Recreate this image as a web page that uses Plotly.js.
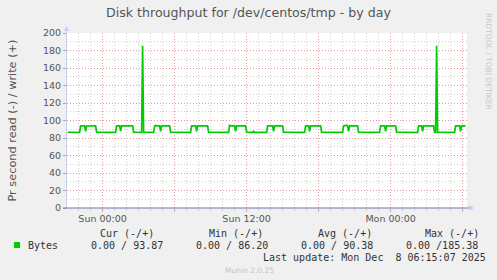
<!DOCTYPE html>
<html>
<head>
<meta charset="utf-8">
<script src="https://cdn.plot.ly/plotly-3.0.1.min.js"></script>
<style>html,body{margin:0;padding:0;background:#F0F0F0;}#chart{width:497px;height:280px;}</style>
</head>
<body>
<div id="chart"></div>
<script>
// ---- data ----
const times = [
'2025-12-06 21:05','2025-12-06 22:05','2025-12-06 22:10','2025-12-06 22:30','2025-12-06 22:35','2025-12-06 22:40','2025-12-06 23:25','2025-12-06 23:30',
'2025-12-07 01:05','2025-12-07 01:10','2025-12-07 01:25','2025-12-07 01:30','2025-12-07 01:35','2025-12-07 02:30','2025-12-07 02:35',
'2025-12-07 03:15','2025-12-07 03:20','2025-12-07 03:25',
'2025-12-07 04:15','2025-12-07 04:20','2025-12-07 04:25','2025-12-07 04:30','2025-12-07 04:45','2025-12-07 04:50','2025-12-07 04:55','2025-12-07 05:35','2025-12-07 05:40',
'2025-12-07 07:20','2025-12-07 07:25','2025-12-07 07:45','2025-12-07 07:50','2025-12-07 07:55','2025-12-07 08:45','2025-12-07 08:50',
'2025-12-07 10:30','2025-12-07 10:35','2025-12-07 10:40','2025-12-07 11:00','2025-12-07 11:05','2025-12-07 11:10','2025-12-07 11:55','2025-12-07 12:00',
'2025-12-07 12:30','2025-12-07 12:35','2025-12-07 12:40','2025-12-07 12:45',
'2025-12-07 13:40','2025-12-07 13:45','2025-12-07 14:10','2025-12-07 14:15','2025-12-07 14:20','2025-12-07 15:00','2025-12-07 15:05',
'2025-12-07 16:50','2025-12-07 16:55','2025-12-07 17:10','2025-12-07 17:15','2025-12-07 17:20','2025-12-07 18:10','2025-12-07 18:15',
'2025-12-07 20:00','2025-12-07 20:05','2025-12-07 20:20','2025-12-07 20:25','2025-12-07 20:30','2025-12-07 20:35','2025-12-07 21:15','2025-12-07 21:20',
'2025-12-07 23:05','2025-12-07 23:10','2025-12-07 23:30','2025-12-07 23:35','2025-12-07 23:40','2025-12-08 00:25','2025-12-08 00:30',
'2025-12-08 02:15','2025-12-08 02:20','2025-12-08 02:35','2025-12-08 02:40','2025-12-08 02:45','2025-12-08 03:35','2025-12-08 03:40',
'2025-12-08 03:45','2025-12-08 03:50','2025-12-08 03:55',
'2025-12-08 05:20','2025-12-08 05:25','2025-12-08 05:45','2025-12-08 05:50','2025-12-08 05:55','2025-12-08 06:15'
];
const writeBytes = [
86.6,86.5,93.8,93.9,87.6,93.7,93.9,86.6,
86.4,93.8,93.9,87.8,93.8,93.9,86.6,
86.5,185.38,86.6,
86.5,93.8,94.6,93.8,93.9,87.6,93.8,93.9,86.6,
86.5,93.8,93.9,87.7,93.8,93.9,86.6,
86.4,94.4,93.8,93.9,87.6,93.8,93.9,86.6,
86.5,87.6,86.2,86.6,
86.5,93.8,93.9,87.7,93.8,93.9,86.6,
86.5,93.8,93.9,87.6,93.8,93.9,86.6,
86.5,93.8,94.6,93.8,87.7,93.8,93.9,86.6,
86.5,93.8,93.9,87.6,93.8,93.9,86.6,
86.5,93.8,93.9,87.7,93.8,93.9,86.6,
86.5,185.38,86.6,
86.5,93.8,93.9,87.6,93.8,93.87
];
const xTickVals = ['2025-12-07 00:00','2025-12-07 06:00','2025-12-07 12:00','2025-12-07 18:00','2025-12-08 00:00','2025-12-08 06:00'];
const xTickText = ['Sun 00:00','','Sun 12:00','','Mon 00:00',''];
const yTickVals = [0,20,40,60,80,100,120,140,160,180,200];
const legendHeaders = ['Cur (-/+)','Min (-/+)','Avg (-/+)','Max (-/+)'];
const legendValues = ['0.00 / 93.87','0.00 / 86.20','0.00 / 90.38','0.00 /185.38'];
const seriesName = 'Bytes';
const titleText = 'Disk throughput for /dev/centos/tmp - by day';
const yTitle = 'Pr second read (-) / write (+)';
const lastUpdate = 'Last update: Mon Dec\u00A0\u00A08 06:15:07 2025';
const footer = 'Munin 2.0.25';
const sideText = 'RRDTOOL / TOBI OETIKER';

// ---- layout helpers (pixel -> paper) ----
const L = 67, R = 30, T = 33, B = 72, W = 497, H = 280;
const PW = W - L - R, PH = H - T - B;
const px = x => (x - L) / PW;
const py = y => (H - B - y) / PH;

const MONO = 'DejaVu Sans Mono, monospace';
const SANS = 'DejaVu Sans, sans-serif';
const majorGrid = 'rgba(245,110,110,0.55)';
const minorGrid = 'rgba(200,200,200,0.85)';

const trace = {
  x: times, y: writeBytes, type: 'scatter', mode: 'lines',
  line: {color: '#00CC00', width: 1.7}, hoverinfo: 'skip', showlegend: false
};

const annotations = [];
function ann(text, x, y, opts) {
  annotations.push(Object.assign({
    text: text, xref: 'paper', yref: 'paper', x: px(x), y: py(y),
    xanchor: 'left', yanchor: 'middle', showarrow: false,
    font: {family: MONO, size: 10, color: '#333'}
  }, opts || {}));
}
ann(seriesName, 26, 245);
const headerX = [98, 207, 316, 423];
const valueX = [89, 194, 299, 404];
legendHeaders.forEach((t, i) => ann(t.replace(/ /g, '\u00A0'), headerX[i], 233));
legendValues.forEach((t, i) => ann(t.replace(/ /g, '\u00A0'), valueX[i], 245));
ann(lastUpdate.replace(/ /g, '\u00A0'), 261, 257);
ann(footer, 249, 270, {xanchor: 'center', font: {family: SANS, size: 7.5, color: '#C4C4C4'}});
ann(sideText, 489, 61, {xanchor: 'center', textangle: 90, font: {family: SANS, size: 7.5, color: '#C8C8C8'}});
ann(yTitle, 12, 120.5, {xanchor: 'center', textangle: -90, font: {family: SANS, size: 11.3, color: '#555'}});

const shapes = [
  // y axis line + arrow
  {type: 'line', xref: 'paper', yref: 'paper', x0: px(66.5), x1: px(66.5), y0: py(208), y1: py(30), line: {color: '#C6CEF4', width: 1}},
  {type: 'path', xref: 'paper', yref: 'paper', path: `M ${px(64)} ${py(31)} L ${px(69)} ${py(31)} L ${px(66.5)} ${py(26)} Z`, fillcolor: '#C6CEF4', line: {width: 0}},
  // x axis line + arrow
  {type: 'line', xref: 'paper', yref: 'paper', x0: px(63), x1: px(469), y0: py(208), y1: py(208), line: {color: '#7474A4', width: 1}},
  {type: 'path', xref: 'paper', yref: 'paper', path: `M ${px(469)} ${py(205)} L ${px(469)} ${py(211)} L ${px(474)} ${py(208)} Z`, fillcolor: '#C6CEF4', line: {width: 0}},
  // legend swatch
  {type: 'rect', xref: 'paper', yref: 'paper', x0: px(14), x1: px(20), y0: py(248), y1: py(242), fillcolor: '#00CC00', line: {width: 0}}
];

const layout = {
  width: W, height: H,
  margin: {l: L, r: R, t: T, b: B, pad: 0},
  paper_bgcolor: '#F0F0F0', plot_bgcolor: '#FFFFFF',
  title: {text: titleText, xref: 'container', x: 0.5, xanchor: 'center', yref: 'container', y: 1 - 13 / H, yanchor: 'middle',
          font: {family: SANS, size: 12.6, color: '#555'}},
  showlegend: false,
  xaxis: {
    type: 'date', range: ['2025-12-06 21:02', '2025-12-08 06:22'],
    tickmode: 'array', tickvals: xTickVals, ticktext: xTickText,
    showgrid: true, gridcolor: majorGrid, griddash: '1px,2px', gridwidth: 1,
    ticks: 'outside', ticklen: 3, tickcolor: majorGrid, ticklabelstandoff: -1,
    minor: {tickmode: 'linear', tick0: '2025-12-07 00:00', dtick: 3600000, showgrid: true, gridcolor: minorGrid, griddash: '1px,2px', gridwidth: 1, ticks: 'outside', ticklen: 2, tickcolor: minorGrid},
    showline: false, zeroline: false,
    tickfont: {family: SANS, size: 9.5, color: '#555'}, fixedrange: true
  },
  yaxis: {
    range: [0, 200], tickmode: 'array', tickvals: yTickVals,
    showgrid: true, gridcolor: majorGrid, griddash: '1px,2px', gridwidth: 1,
    ticks: 'outside', ticklen: 3, tickcolor: '#AAAAAA',
    minor: {tickmode: 'linear', tick0: 0, dtick: 10, showgrid: true, gridcolor: minorGrid, griddash: '1px,2px', gridwidth: 1},
    showline: false, zeroline: false,
    tickfont: {family: SANS, size: 9.5, color: '#555'}, fixedrange: true
  },
  annotations: annotations,
  shapes: shapes
};

Plotly.newPlot('chart', [trace], layout, {staticPlot: true, displayModeBar: false});
</script>
</body>
</html>
